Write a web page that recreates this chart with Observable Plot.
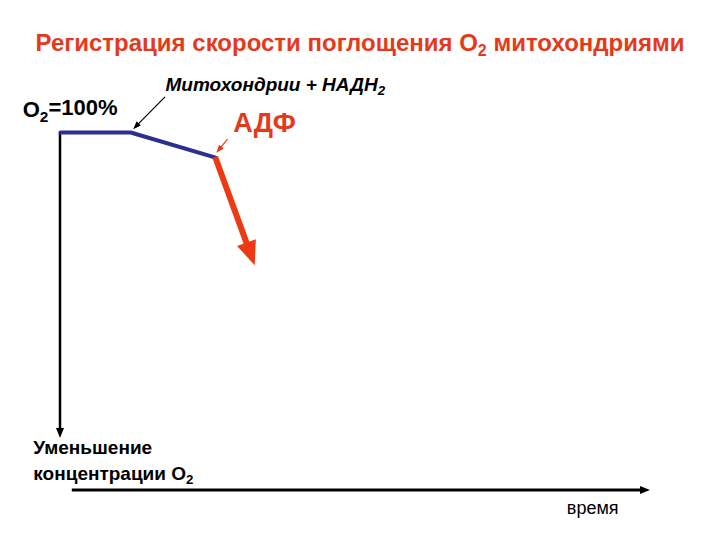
<!DOCTYPE html>
<html><head><meta charset="utf-8">
<script src="https://cdn.jsdelivr.net/npm/d3@7"></script>
<script src="https://cdn.jsdelivr.net/npm/@observablehq/plot@0.6"></script>
<style>
body{margin:0;background:#fff;font-family:"Liberation Sans",Arial,sans-serif;position:relative;}
#title{position:absolute;left:0;top:29px;width:720px;text-align:center;font-weight:bold;font-size:24px;color:#e5391c;white-space:nowrap;}
#title sub{font-size:16px;vertical-align:-5px;}
</style></head>
<body>
<div id="chart"></div>
<div id="title">Регистрация скорости поглощения O<sub>2</sub> митохондриями</div>
<script>
// Data (time in arbitrary units, O2 concentration in %)
const blueTime = [0, 11.9, 26.3];
const blueO2   = [100, 100, 93.0];
const redTime  = [26.3, 33.0];
const redO2    = [93.0, 62.8];
const yAxisLine = {x1: 0, y1: 100, x2: 0, y2: 14.5};
const xAxisLine = {x1: 2, y1: 0, x2: 100, y2: 0};
const noteArrows = [
  {x1: 17.8, y1: 109.8, x2: 12.4, y2: 100.8, color: "#000"},
  {x1: 28.4, y1: 98.0, x2: 26.5, y2: 94.2, color: "#e5391c"}
];
const labels = [
  {x: -6.4, y: 106.3, text: "O₂=100%", size: 22, weight: "bold", style: "normal", color: "#000", anchor: "start"},
  {x: 17.8, y: 113.4, text: "Митохондрии + НАДН₂", size: 19, weight: "bold", style: "italic", color: "#000", anchor: "start"},
  {x: 29.3, y: 102.6, text: "АДФ", size: 27, weight: "bold", style: "normal", color: "#e5391c", anchor: "start"},
  {x: -4.6, y: 12.0, text: "Уменьшение", size: 19, weight: "bold", style: "normal", color: "#000", anchor: "start"},
  {x: -4.6, y: 4.7, text: "концентрации O₂", size: 19, weight: "bold", style: "normal", color: "#000", anchor: "start"},
  {x: 90.2, y: -5.0, text: "время", size: 18, weight: "normal", style: "normal", color: "#000", anchor: "middle"}
];

function arrowMark(list, opt) {
  return (index, scales) => {
    const g = d3.create("svg:g");
    for (const d of list) {
      const ax = scales.x(d.x1), ay = scales.y(d.y1), bx = scales.x(d.x2), by = scales.y(d.y2);
      const dx = bx - ax, dy = by - ay, L = Math.hypot(dx, dy), ux = dx / L, uy = dy / L;
      const hl = opt.head, hw = opt.headW / 2;
      const cx = bx - ux * hl, cy = by - uy * hl;
      const color = d.color || opt.color;
      g.append("line").attr("x1", ax).attr("y1", ay)
        .attr("x2", bx - ux * hl * 0.7).attr("y2", by - uy * hl * 0.7)
        .attr("stroke", color).attr("stroke-width", opt.width);
      g.append("polygon")
        .attr("points", [[bx, by], [cx - uy * hw, cy + ux * hw], [cx + uy * hw, cy - ux * hw]].map(p => p.join(",")).join(" "))
        .attr("fill", color);
    }
    return g.node();
  };
}

const blue = blueTime.map((t, i) => ({t, o: blueO2[i]}));
const red = [{x1: redTime[0], y1: redO2[0], x2: redTime[1], y2: redO2[1], color: "#ee3a14"}];

const plot = Plot.plot({
  width: 720, height: 540,
  marginLeft: 60, marginRight: 70, marginTop: 132, marginBottom: 50,
  x: {domain: [0, 100], axis: null},
  y: {domain: [0, 100], axis: null},
  marks: [
    arrowMark([yAxisLine], {width: 2.5, head: 10, headW: 8, color: "#000"}),
    arrowMark([xAxisLine], {width: 3, head: 10, headW: 8, color: "#000"}),
    Plot.line(blue, {x: "t", y: "o", stroke: "#2d2f90", strokeWidth: 4}),
    arrowMark(red, {width: 6, head: 24, headW: 20}),
    arrowMark(noteArrows, {width: 1.2, head: 8, headW: 6}),
    ...labels.map(l => Plot.text([l], {x: "x", y: "y", text: "text", fontSize: l.size, fontWeight: l.weight, fontStyle: l.style, fill: l.color, textAnchor: l.anchor, fontFamily: "Liberation Sans"}))
  ]
});
// render subscript "₂" as a lowered, smaller "2"
d3.select(plot).selectAll("text").each(function() {
  const t = this.textContent;
  if (!t.includes("₂")) return;
  const sel = d3.select(this);
  const parts = t.split("₂");
  sel.text(null);
  parts.forEach((p, i) => {
    if (i > 0) {
      sel.append("tspan").attr("dy", "0.3em").attr("font-size", "70%").text("2");
      if (p) sel.append("tspan").attr("dy", "-0.3em").text(p);
    } else if (p) sel.append("tspan").text(p);
  });
});
document.getElementById("chart").appendChild(plot);
</script>
</body></html>
